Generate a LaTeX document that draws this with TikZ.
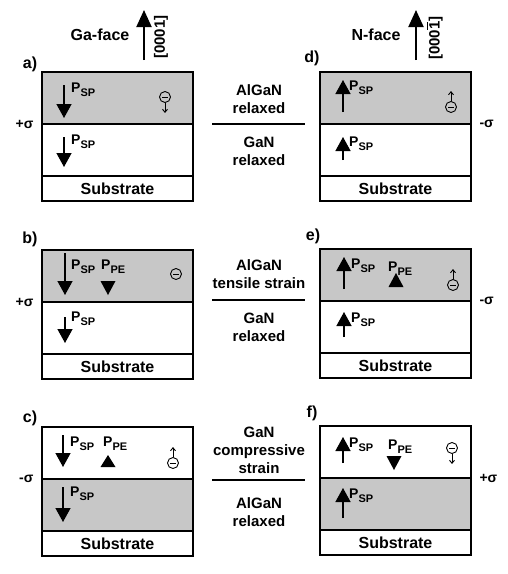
\documentclass[tikz,border=0pt]{standalone}
\usepackage{fontspec}
\setmainfont{Liberation Sans}
\usetikzlibrary{positioning,arrows.meta}

\newcommand{\psub}[1]{P\raisebox{-4pt}{\fontsize{11}{11}\selectfont #1}}
\newcommand{\barone}{\rlap{\rule[11.5pt]{7.5pt}{0.9pt}}1}

\begin{document}
\begin{tikzpicture}[x=1pt,y=-1pt,
  font=\fontsize{14}{18}\selectfont\bfseries,
  layer/.style={draw,line width=1.3pt,minimum width=151pt,minimum height=52pt,inner sep=0pt,outer sep=0pt},
  substr/.style={layer,minimum height=25pt,font=\fontsize{16}{18}\selectfont\bfseries},
  alloy/.style={fill=black!22},
  pol/.style={line width=1.4pt,-{Triangle[width=15pt,length=14pt]}},
  growth/.style={line width=2pt,-{Triangle[width=15pt,length=17pt]}},
  elec/.style={circle,draw,line width=0.9pt,minimum size=11pt,inner sep=0pt,
    path picture={\draw[line width=0.9pt] ([xshift=-3pt]path picture bounding box.center) -- ([xshift=3pt]path picture bounding box.center);}},
  drift/.style={line width=0.9pt,-{Straight Barb[width=5pt,length=3pt]}},
  plabel/.style={inner sep=0pt,anchor=north west},
  panel/.style={font=\fontsize{16}{18}\selectfont\bfseries},
  layers/.style={align=center,font=\fontsize{15}{18}\selectfont\bfseries}]
  \useasboundingbox (0,0) rectangle (507,574);

  % growth directions
  \node[panel] (gaface) at (100,35) {Ga-face};
  \coordinate (ga0) at (144,60);
  \coordinate (ga1) at (144,10);
  \draw[growth] (ga0) -- (ga1);
  \node[rotate=90,font=\fontsize{15}{18}\selectfont\bfseries] (gadir) at (161,37) {[0001]};
  \node[panel] (nface) at (376,35) {N-face};
  \coordinate (n0) at (416,60);
  \coordinate (n1) at (416,10);
  \draw[growth] (n0) -- (n1);
  \node[rotate=90,font=\fontsize{15}{18}\selectfont\bfseries] (ndir) at (435,38) {[000\barone]};

  % layer stacks
  \node[layer,alloy,anchor=north west] (a1) at (42,72) {};
  \node[layer,below=0pt of a1] (a2) {};
  \node[substr,below=0pt of a2] (a3) {Substrate};
  \node[layer,alloy,anchor=north west] (b1) at (42,250) {};
  \node[layer,below=0pt of b1] (b2) {};
  \node[substr,below=0pt of b2] (b3) {Substrate};
  \node[layer,anchor=north west] (c1) at (42,427) {};
  \node[layer,alloy,below=0pt of c1] (c2) {};
  \node[substr,below=0pt of c2] (c3) {Substrate};
  \node[layer,alloy,anchor=north west] (d1) at (320,72) {};
  \node[layer,below=0pt of d1] (d2) {};
  \node[substr,below=0pt of d2] (d3) {Substrate};
  \node[layer,alloy,anchor=north west] (e1) at (320,249) {};
  \node[layer,below=0pt of e1] (e2) {};
  \node[substr,below=0pt of e2] (e3) {Substrate};
  \node[layer,anchor=north west] (f1) at (320,426) {};
  \node[layer,alloy,below=0pt of f1] (f2) {};
  \node[substr,below=0pt of f2] (f3) {Substrate};

  % panel letters
  \node[panel] (la) at (30,64) {a)};
  \node[panel] (lb) at (30,239) {b)};
  \node[panel] (lc) at (30,418) {c)};
  \node[panel] (ld) at (312,58) {d)};
  \node[panel] (le) at (313,236) {e)};
  \node[panel] (lf) at (312,413) {f)};

  % interface charges
  \node[left=5pt of a1.south west] (sa) {+σ};
  \node[left=5pt of b1.south west] (sb) {+σ};
  \node[left=5pt of c1.south west] (sc) {-σ};
  \node[right=5pt of d1.south east] (sd) {-σ};
  \node[right=5pt of e1.south east] (se) {-σ};
  \node[right=5pt of f1.south east] (sf) {+σ};

  % a)
  \node[plabel] (pa1) at (71,83) {\psub{SP}};
  \draw[pol] (64,85) -- (64,118);
  \node[plabel] (pa2) at (71,135) {\psub{SP}};
  \draw[pol] (64,137) -- (64,167);
  \node[elec] (ea) at (165,97) {};
  \draw[drift] (ea.south) -- ++(0,10);

  % b)
  \node[plabel] (pb1) at (71,260) {\psub{SP}};
  \draw[pol] (65,253) -- (65,295);
  \node[plabel] (qb1) at (101,260) {\psub{PE}};
  \fill (100.5,281) -- (115.5,281) -- (108,295) -- cycle;
  \node[plabel] (pb2) at (71,312) {\psub{SP}};
  \draw[pol] (65,317) -- (65,343);
  \node[elec] (eb) at (176,274) {};

  % c)
  \node[plabel] (pc1) at (70,437) {\psub{SP}};
  \draw[pol] (63,435) -- (63,467);
  \node[plabel] (qc1) at (103,437) {\psub{PE}};
  \fill (100.5,467) -- (115.5,467) -- (108,455) -- cycle;
  \node[plabel] (pc2) at (70,487) {\psub{SP}};
  \draw[pol] (63,487) -- (63,522);
  \node[elec] (ec) at (173,463) {};
  \draw[drift] (ec.north) -- ++(0,-10);

  % d)
  \node[plabel] (pd1) at (349,81) {\psub{SP}};
  \draw[pol] (343,112) -- (343,80);
  \node[plabel] (pd2) at (349,137) {\psub{SP}};
  \draw[pol] (343,160) -- (343,137);
  \node[elec] (ed) at (451,107) {};
  \draw[drift] (ed.north) -- ++(0,-10);

  % e)
  \node[plabel] (pe1) at (351,259) {\psub{SP}};
  \draw[pol] (344,289) -- (344,257);
  \node[plabel] (qe1) at (388,262) {\psub{PE}};
  \fill (388.5,287) -- (403.5,287) -- (396,273) -- cycle;
  \node[plabel] (pe2) at (351,313) {\psub{SP}};
  \draw[pol] (344,337) -- (344,312);
  \node[elec] (ee) at (453,285) {};
  \draw[drift] (ee.north) -- ++(0,-10);

  % f)
  \node[plabel] (pf1) at (349,438) {\psub{SP}};
  \draw[pol] (343,463) -- (343,437);
  \node[plabel] (qf1) at (388,440) {\psub{PE}};
  \fill (386.5,456) -- (401.5,456) -- (394,470) -- cycle;
  \node[plabel] (pf2) at (349,489) {\psub{SP}};
  \draw[pol] (343,518) -- (343,488);
  \node[elec] (ef) at (452,448) {};
  \draw[drift] (ef.south) -- ++(0,10);

  % layer names between the columns
  \node[layers] (ta) at (259,99) {AlGaN\\relaxed};
  \node[layers] (ba) at (259,151) {GaN\\relaxed};
  \coordinate (ha0) at (212,124);
  \coordinate (ha1) at (305,124);
  \draw[line width=1.2pt] (ha0) -- (ha1);
  \node[layers] (tb) at (259,274) {AlGaN\\tensile strain};
  \node[layers] (bb) at (259,327) {GaN\\relaxed};
  \coordinate (hb0) at (212,300);
  \coordinate (hb1) at (305,300);
  \draw[line width=1.2pt] (hb0) -- (hb1);
  \node[layers] (tc) at (259,450) {GaN\\compressive\\strain};
  \node[layers] (bc) at (259,512) {AlGaN\\relaxed};
  \coordinate (hc0) at (212,480);
  \coordinate (hc1) at (305,480);
  \draw[line width=1.2pt] (hc0) -- (hc1);
\end{tikzpicture}
\end{document}
